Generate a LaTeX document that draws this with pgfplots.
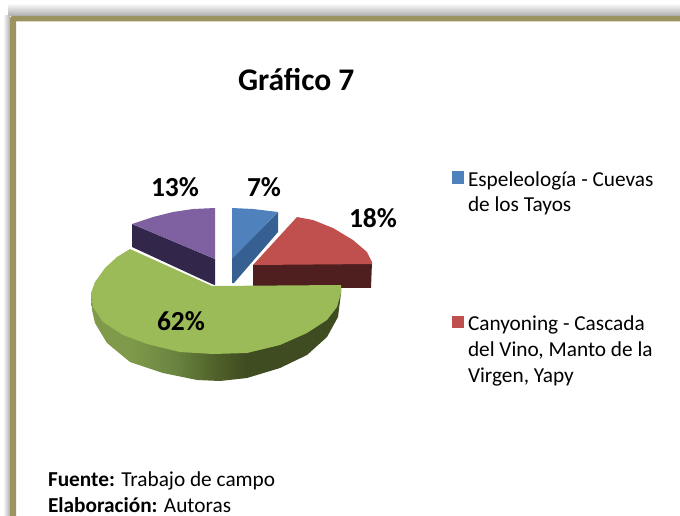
\documentclass[border=0pt]{standalone}
\usepackage{fontspec}
\setmainfont{Carlito}
\usepackage{pgfplots}
\pgfplotsset{compat=1.18}
\definecolor{frame}{HTML}{9B9460}
\definecolor{bluetop}{HTML}{4F81BD}
\definecolor{blueside}{HTML}{376092}
\definecolor{redtop}{HTML}{C0504D}
\definecolor{redside}{HTML}{4E1F1E}
\definecolor{greentop}{HTML}{9BBB59}
\definecolor{purpletop}{HTML}{7F60A0}
\definecolor{purpleside}{HTML}{32264A}
\definecolor{gA}{HTML}{7F9A4A}
\definecolor{gB}{HTML}{6A8340}
\definecolor{gC}{HTML}{4F6129}
\definecolor{gD}{HTML}{3F4B20}
\pgfdeclarehorizontalshading{greenside}{100bp}{color(0bp)=(gA); color(25bp)=(gA); color(33bp)=(gA); color(42bp)=(gB); color(50bp)=(gC); color(56bp)=(gD); color(75bp)=(gD); color(100bp)=(gD)}
\tikzset{
  T/.style={anchor=base west, inner sep=0pt, outer sep=0pt, text=black, font=\fontsize{21.3bp}{25bp}\selectfont},
  L/.style={anchor=base west, inner sep=0pt, outer sep=0pt, text=black, font=\bfseries\fontsize{27.5bp}{30bp}\selectfont},
}
\begin{document}
\begin{tikzpicture}
\path[use as bounding box] (0,0) rectangle (680bp,516bp);
\begin{axis}[
  scale only axis, width=680bp, height=516bp, at={(0,0)}, anchor=south west,
  xmin=0, xmax=680, ymin=0, ymax=516, y dir=reverse,
  enlargelimits=false, hide axis,
]
% shadow of the frame
\addplot[draw=none, top color=white, bottom color=black!32] coordinates {(8,3)(680,3)(680,16)(8,16)} -- cycle;
\addplot[draw=none, left color=white, right color=black!32] coordinates {(3,16)(10,16)(10,516)(3,516)} -- cycle;
% frame
\addplot[draw=none, fill=frame] coordinates {(10,18)(12,16)(680,16)(680,21.5)(16,21.5)(16,516)(10,516)} -- cycle;
% purple
\addplot[draw=none, fill=purpleside] coordinates {(132,224)(215,259)(215,285)(212,284)(132,247)} -- cycle;
\addplot[draw=none, fill=purpletop] coordinates {(215,208)(193,209)(173,212)(153,217)(132,224)(215,259)} -- cycle;
% blue
\addplot[draw=none, fill=blueside] coordinates {(278,212)(278,232)(234,283)(232,283)(232,258)} -- cycle;
\addplot[draw=none, fill=bluetop] coordinates {(232,208)(253,209)(278,212)(233,258)(232,258)} -- cycle;
% red
\addplot[draw=none, fill=redside] coordinates {(253,265)(372,262)(371,288)(253,287)} -- cycle;
\addplot[draw=none, fill=redtop] coordinates {(253,265)(297,217)(313,220)(333,228)(353,240)(367,252)(372,262)(372,264)} -- cycle;
% green
\addplot[draw=none, shading=greenside] coordinates {(91,293)(92,310)(95,323)(107,343)(130,362)(163,373)(197,380)(220,381)(247,378)(280,368)(307,355)(327,337)(338,317)(341,293)(341,285)} -- cycle;
\addplot[draw=none, fill=greentop] coordinates {(130,249)(117,257)(105,268)(95,282)(91,293)(93,307)(103,322)(123,335)(147,344)(180,352)(213,354)(247,353)(280,345)(307,333)(327,320)(337,307)(341,293)(341,285)(212,286)} -- cycle;
% legend keys
\addplot[draw=none, fill=bluetop] coordinates {(452,171)(464,171)(464,184)(452,184)} -- cycle;
\addplot[draw=none, fill=redtop] coordinates {(452,316)(464,316)(464,328)(452,328)} -- cycle;
% texts
\node[L, font=\bfseries\fontsize{31.5bp}{34bp}\selectfont] at (axis cs:238,91) {Gráfico 7};
\node[L] at (axis cs:151,196) {13\%};
\node[L] at (axis cs:247,196) {7\%};
\node[L] at (axis cs:349,227) {18\%};
\node[L] at (axis cs:157,330) {62\%};
\node[T] at (axis cs:468,186) {Espeleología - Cuevas};
\node[T] at (axis cs:468,211) {de los Tayos};
\node[T] at (axis cs:468,330) {Canyoning - Cascada};
\node[T] at (axis cs:468,356) {del Vino, Manto de la};
\node[T] at (axis cs:468,382) {Virgen, Yapy};
\node[T] at (axis cs:48,486) {\textbf{Fuente:} Trabajo de campo};
\node[T] at (axis cs:48,512) {\textbf{Elaboración:} Autoras};
\end{axis}
\end{tikzpicture}
\end{document}
